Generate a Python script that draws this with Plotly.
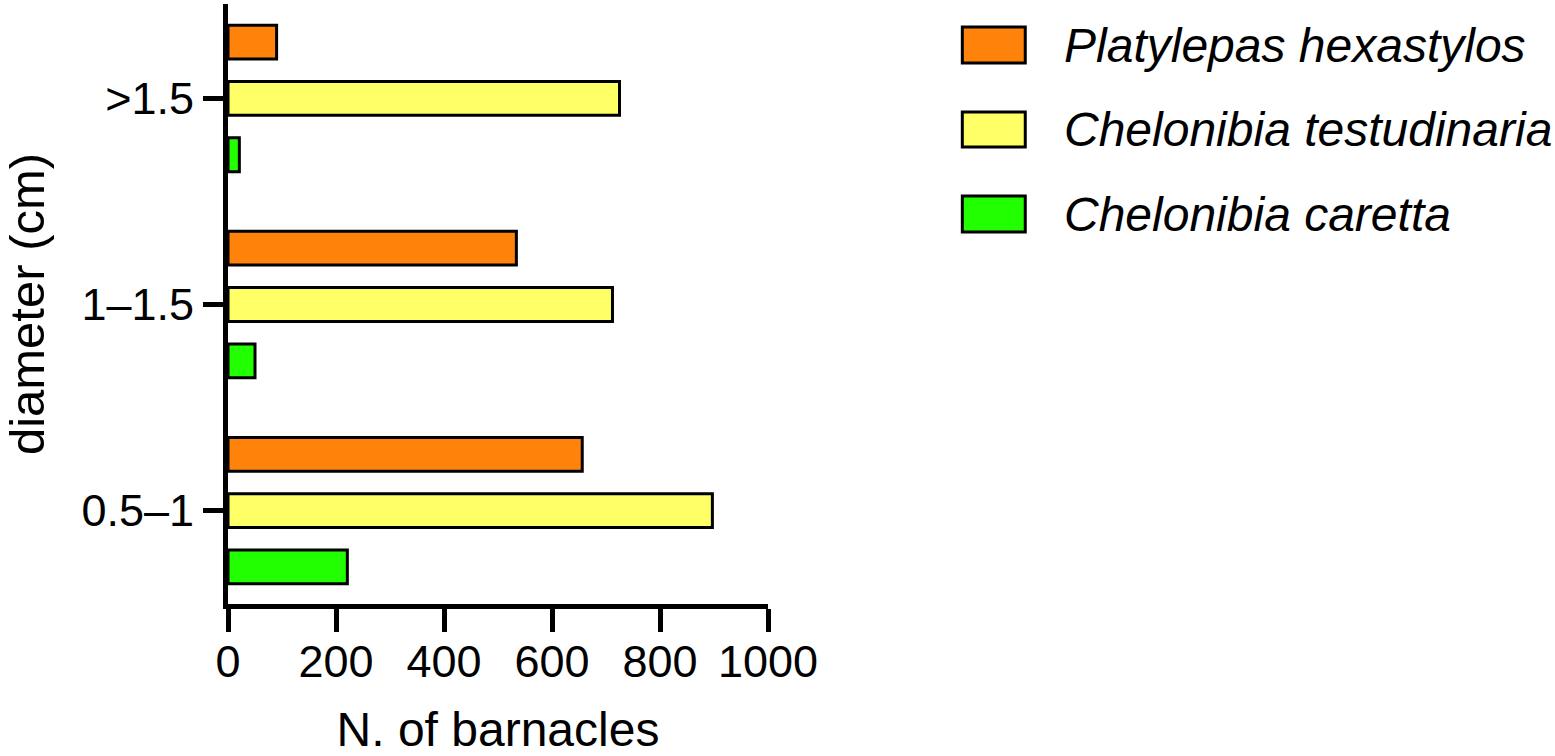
import plotly.graph_objects as go

categories = ["0.5–1", "1–1.5", ">1.5"]
species = ["Platylepas hexastylos", "Chelonibia testudinaria", "Chelonibia caretta"]
platylepas = [656, 534, 90]
testudinaria = [897, 712, 725]
caretta = [221, 50, 21]
x_ticks = [0, 200, 400, 600, 800, 1000]

colors = {
    "Platylepas hexastylos": "#FF820A",
    "Chelonibia testudinaria": "#FFFF66",
    "Chelonibia caretta": "#22FF00",
}
values = {
    "Platylepas hexastylos": platylepas,
    "Chelonibia testudinaria": testudinaria,
    "Chelonibia caretta": caretta,
}

W, H = 1555, 756
L, R, T, B = 228, 768.5, 4, 604  # plot-area pixel box

fig = go.Figure()
# add in reverse so the first species sits at the top of each group
for name in reversed(species):
    fig.add_trace(go.Bar(
        y=categories, x=values[name], orientation="h", name=name,
        marker=dict(color=colors[name], line=dict(color="black", width=3)),
        showlegend=False,
    ))

font_main = "Liberation Sans, Arial, Helvetica, sans-serif"

def px2paper_x(px):
    return (px - L) / (R - L)

def px2paper_y(py):
    return (B - py) / (B - T)

# custom legend (large swatches)
rows = [(27, 63), (112, 147), (196, 232)]
shapes = []
annotations = []
for name, (y0, y1) in zip(species, rows):
    shapes.append(dict(
        type="rect", xref="paper", yref="paper",
        x0=px2paper_x(963), x1=px2paper_x(1026),
        y0=px2paper_y(y1), y1=px2paper_y(y0),
        fillcolor=colors[name], line=dict(color="black", width=3),
    ))
    annotations.append(dict(
        xref="paper", yref="paper", x=px2paper_x(1063), y=px2paper_y((y0 + y1) / 2),
        xanchor="left", yanchor="middle", showarrow=False,
        text="<i>%s</i>" % name,
        font=dict(family=font_main, size=48, color="black"),
    ))

fig.update_layout(
    width=W, height=H,
    margin=dict(l=L, r=W - R, t=T, b=H - B, pad=0, autoexpand=False),
    paper_bgcolor="white", plot_bgcolor="white",
    barmode="group", bargap=0.18, bargroupgap=0.40,
    font=dict(family=font_main, size=45, color="black"),
    shapes=shapes, annotations=annotations,
    showlegend=False,
)
fig.update_xaxes(
    range=[0, 1000], tickvals=x_ticks, ticktext=[str(v) for v in x_ticks],
    showline=True, linewidth=5, linecolor="black",
    ticks="outside", ticklen=23, tickwidth=5, tickcolor="black",
    showgrid=False, zeroline=False, automargin=False,
    tickfont=dict(size=45), ticklabelstandoff=-9,
    title=dict(text="N. of barnacles", font=dict(size=48), standoff=42),
)
fig.update_yaxes(
    type="category", categoryorder="array", categoryarray=categories,
    range=[-0.453, 2.458],
    showline=True, linewidth=5, linecolor="black",
    ticks="outside", ticklen=20, tickwidth=5, tickcolor="black",
    showgrid=False, zeroline=False, automargin=False,
    tickfont=dict(size=45),
    title=dict(text="diameter (cm)", font=dict(size=49), standoff=38),
)

fig.write_html(
    "out.html",
    config={"displayModeBar": False},
    post_script="document.body.style.margin='0';document.body.style.padding='0';",
)
